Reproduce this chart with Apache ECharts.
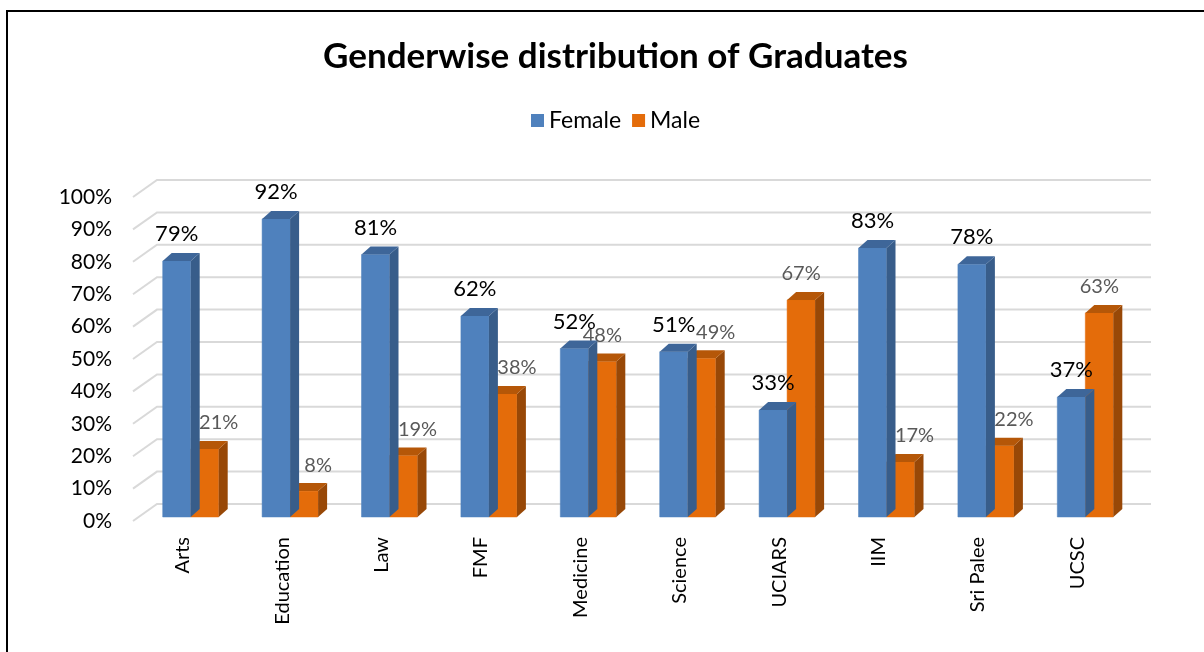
<!DOCTYPE html>
<html>
<head>
<meta charset="utf-8">
<script src="https://cdn.jsdelivr.net/npm/echarts@6/dist/echarts.min.js"></script>
<style>
  html, body { margin: 0; padding: 0; background: #fff; }
  #chart { width: 1204px; height: 652px; }
</style>
</head>
<body>
<div id="chart"></div>
<script>
var categories = ['Arts', 'Education', 'Law', 'FMF', 'Medicine', 'Science', 'UCIARS', 'IIM', 'Sri Palee', 'UCSC'];
var female = [79, 92, 81, 62, 52, 51, 33, 83, 78, 37];
var male = [21, 8, 19, 38, 48, 49, 67, 17, 22, 63];
var yTicks = [0, 10, 20, 30, 40, 50, 60, 70, 80, 90, 100];

var FONT = 'Lato, "Open Sans", sans-serif';

// 3d-ish bar: front face, right side, top
function bar3d(colors, left, labelColor, labelSize, labelDx, labelDy) {
  return function (params, api) {
    var i = api.value(0), v = api.value(1);
    var base = api.coord([i, 0]);
    var top = api.coord([i, v]);
    var x = base[0] + left + 8;
    var w = 28, dx = 9, dy = -8;
    var yb = base[1] - 4, yt = top[1] - 4;
    var cx = x + w / 2;
    var ldx = typeof labelDx === 'function' ? labelDx(v, i) : labelDx;
    var kids = [
      { type: 'rect', shape: { x: x, y: yt, width: w, height: yb - yt }, style: { fill: colors[0], stroke: colors[0], lineWidth: 0.5 } },
      { type: 'polygon', shape: { points: [[x + w, yt], [x + w + dx, yt + dy], [x + w + dx, yb + dy], [x + w, yb]] }, style: { fill: colors[1] } },
      { type: 'polygon', shape: { points: [[x, yt], [x + dx, yt + dy], [x + w + dx, yt + dy], [x + w, yt]] }, style: { fill: colors[2] } },
      { type: 'text', z2: 10, style: { text: v + '%', x: cx + ldx, y: yt + labelDy, align: 'center', verticalAlign: 'middle', font: labelSize + 'px ' + FONT, fill: labelColor } }
    ];
    return { type: 'group', children: kids };
  };
}

var chart = echarts.init(document.getElementById('chart'));

var option = {
  backgroundColor: '#fff',
  animation: false,
  title: {
    text: 'Genderwise distribution of Graduates',
    left: 318,
    top: 34,
    textStyle: { fontFamily: FONT, fontSize: 35, fontWeight: 'bold', color: '#000' }
  },
  legend: {
    data: ['Female', 'Male'],
    top: 104,
    left: 526,
    icon: 'rect',
    itemWidth: 13,
    itemHeight: 13,
    itemGap: 11,
    textStyle: { fontFamily: FONT, fontSize: 23, color: '#000' }
  },
  graphic: [{
    type: 'polyline',
    shape: { points: [[7, 652], [7, 11], [1204, 11]] },
    style: { stroke: '#000', lineWidth: 2, fill: null }
  }],
  grid: { left: 133, top: 197, width: 994, height: 324 },
  xAxis: {
    type: 'category',
    data: categories,
    axisLine: { show: false },
    axisTick: { show: false },
    axisLabel: { rotate: 90, margin: 16, fontFamily: FONT, fontSize: 20, color: '#000' }
  },
  yAxis: {
    type: 'value',
    min: 0,
    max: 100,
    interval: 10,
    axisLine: { show: false },
    axisTick: { show: false },
    splitLine: { show: false },
    axisLabel: { formatter: '{value}%', margin: 21, fontFamily: FONT, fontSize: 21, color: '#000' }
  },
  series: [
    {
      name: 'wall',
      type: 'custom',
      z: 1,
      silent: true,
      clip: false,
      data: yTicks.map(function (t) { return [0, t]; }),
      renderItem: function (params, api) {
        var cs = params.coordSys;
        var y = api.coord([0, api.value(1)])[1];
        return {
          type: 'polyline',
          shape: { points: [[cs.x, y], [cs.x + 24, y - 17], [cs.x + cs.width + 24, y - 17]] },
          style: { stroke: '#D9D9D9', lineWidth: 2, fill: null }
        };
      }
    },
    {
      name: 'Female',
      type: 'custom',
      z: 3,
      clip: false,
      itemStyle: { color: '#4F81BD' },
      data: female.map(function (v, i) { return [i, v]; }),
      renderItem: bar3d(['#4F81BD', '#385D8A', '#3E6699'], -28, '#000', 22, 0, -27)
    },
    {
      name: 'Male',
      type: 'custom',
      z: 2,
      clip: false,
      itemStyle: { color: '#E46C0A' },
      data: male.map(function (v, i) { return [i, v]; }),
      renderItem: bar3d(['#E46C0A', '#984807', '#B55708'], 0, '#595959', 20, function (v, i) {
        return v < 45 ? 14 : (Math.abs(v - female[i]) <= 2 ? 14 : 0);
      }, -26)
    }
  ]
};

chart.setOption(option);
</script>
</body>
</html>
